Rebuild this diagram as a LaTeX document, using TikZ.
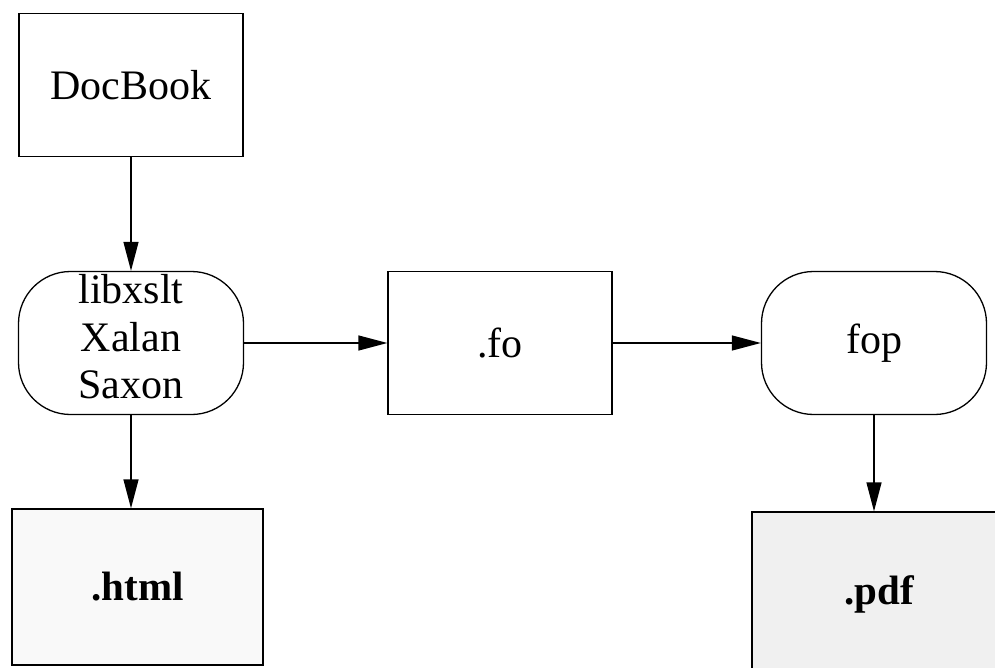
\documentclass[tikz,border=0pt]{standalone}
\usepackage{fontspec}
\setmainfont{Liberation Serif}
\usetikzlibrary{arrows.meta}
\begin{document}
\begin{tikzpicture}[x=1pt,y=-1pt,line width=1.3pt,
        every node/.style={font=\fontsize{42}{47.5}\selectfont},
        box/.style={draw,rectangle,minimum width=224pt,minimum height=143pt,inner sep=2pt},
        proc/.style={draw,rectangle,rounded corners=52pt,minimum width=225pt,minimum height=143pt,inner sep=1pt},
        outbox/.style={draw,rectangle,inner sep=2pt,font=\fontsize{41}{47.5}\selectfont\bfseries},
        arr/.style={-{Triangle[length=29pt,width=15pt]}}]
        \useasboundingbox (0,0) rectangle (995,668);
        \node[box] (doc) at (131,85) {DocBook};
        \node[proc,align=center,text depth=13pt] (xslt) at (131,343) {libxslt\\Xalan\\Saxon};
        \node[box] (fo) at (500,343) {.fo};
        \node[proc] (fop) at (874,343) {fop};
        \node[outbox,fill=gray!5,minimum width=251pt,minimum height=156pt] (html) at (137.5,587) {.html};
        \node[outbox,fill=gray!12,minimum width=254pt,minimum height=164pt] (pdf) at (879,594) {.pdf};
        \draw[arr] (doc) -- (xslt);
        \draw[arr] (xslt) -- (fo);
        \draw[arr] (fo) -- (fop);
        \draw[arr] (xslt) -- (xslt |- html.north);
        \draw[arr] (fop) -- (fop |- pdf.north);
    \end{tikzpicture}
\end{document}
